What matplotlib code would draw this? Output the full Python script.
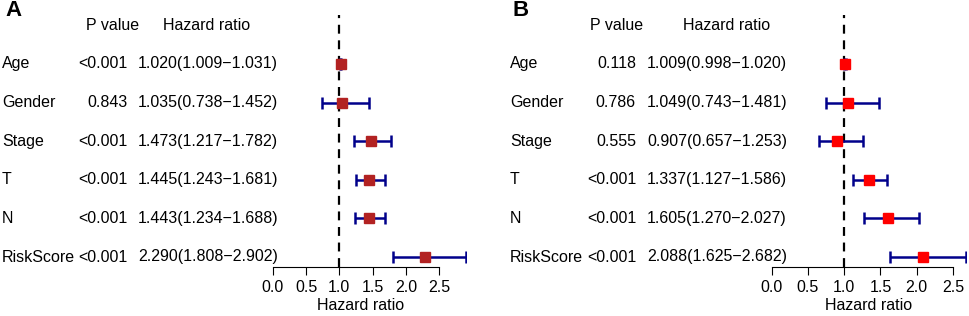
import matplotlib
matplotlib.use("Agg")
import matplotlib.pyplot as plt
from matplotlib.transforms import blended_transform_factory

plt.rcParams['font.family'] = ['Liberation Sans', 'DejaVu Sans']

# data
variables = ['Age', 'Gender', 'Stage', 'T', 'N', 'RiskScore']

p_a = ['<0.001', '0.843', '<0.001', '<0.001', '<0.001', '<0.001']
hr_a = [1.020, 1.035, 1.473, 1.445, 1.443, 2.290]
low_a = [1.009, 0.738, 1.217, 1.243, 1.234, 1.808]
high_a = [1.031, 1.452, 1.782, 1.681, 1.688, 2.902]

p_b = ['0.118', '0.786', '0.555', '<0.001', '<0.001', '<0.001']
hr_b = [1.009, 1.049, 0.907, 1.337, 1.605, 2.088]
low_b = [0.998, 0.743, 0.657, 1.127, 1.270, 1.625]
high_b = [1.020, 1.481, 1.253, 1.586, 2.027, 2.682]

ticks = [0.0, 0.5, 1.0, 1.5, 2.0, 2.5]

W, H = 969, 316
fig = plt.figure(figsize=(W / 100, H / 100), dpi=100)
FS = 11.5


def forest(letter, p, hr, low, high, box_color, x0, px_unit, name_x, p_right, p_head, hr_center, hr_head, lab_x):
    n = len(hr)
    xmax = max(high)
    ax = fig.add_axes([x0 / W, 1 - 267 / H, xmax * px_unit / W, (267 - 15) / H])
    rows = list(range(n, 0, -1))
    ax.set_xlim(0, xmax)
    ax.set_ylim(1 - 10 / 38.6, n + 49 / 38.6)

    ax.axvline(1, color='black', lw=1.6, linestyle=(0, (4, 3)), zorder=1)
    ax.errorbar(hr, rows, xerr=[[h - l for h, l in zip(hr, low)], [u - h for h, u in zip(hr, high)]],
                fmt='none', ecolor='#00008B', elinewidth=1.8, capsize=4, capthick=1.8, zorder=2)
    ax.plot(hr, rows, 's', color=box_color, markersize=6.5, zorder=3)

    for s in ['top', 'right', 'left']:
        ax.spines[s].set_visible(False)
    ax.spines['bottom'].set_bounds(0, 2.5)
    ax.spines['bottom'].set_linewidth(0.8)
    ax.set_yticks([])
    ax.set_xticks(ticks)
    ax.set_xticklabels([f'{t:.1f}' for t in ticks], fontsize=FS)
    ax.tick_params(axis='x', length=6, width=0.8, pad=3)
    ax.patch.set_alpha(0)

    # text columns: x in figure pixels, y on the row positions
    tr = blended_transform_factory(fig.transFigure, ax.transData)
    for i, r in enumerate(rows):
        ax.text(name_x / W, r, variables[i], transform=tr, ha='left', va='center', fontsize=FS, clip_on=False)
        ax.text(p_right / W, r, p[i], transform=tr, ha='right', va='center', fontsize=FS, clip_on=False)
        ax.text(hr_center / W, r, f'{hr[i]:.3f}({low[i]:.3f}\u2212{high[i]:.3f})', transform=tr,
                ha='center', va='center', fontsize=FS, clip_on=False)
    ax.text(p_head / W, n + 1, 'P value', transform=tr, ha='center', va='center', fontsize=FS, clip_on=False)
    ax.text(hr_head / W, n + 1, 'Hazard ratio', transform=tr, ha='center', va='center', fontsize=FS, clip_on=False)

    fig.text(lab_x / W, 1 - 305 / H, 'Hazard ratio', ha='center', va='center', fontsize=FS)
    fig.text((name_x + 3) / W, 1 - 10 / H, letter, ha='left', va='center', fontsize=16, fontweight='bold')
    return ax


forest('A', p_a, hr_a, low_a, high_a, '#B22222', 272.7, 66.65, 2, 128, 113, 208, 207, 361)
forest('B', p_b, hr_b, low_b, high_b, '#FF0000', 771.7, 72.5, 510, 636, 617, 717, 727, 869)

fig.savefig('out.png', dpi=100)
